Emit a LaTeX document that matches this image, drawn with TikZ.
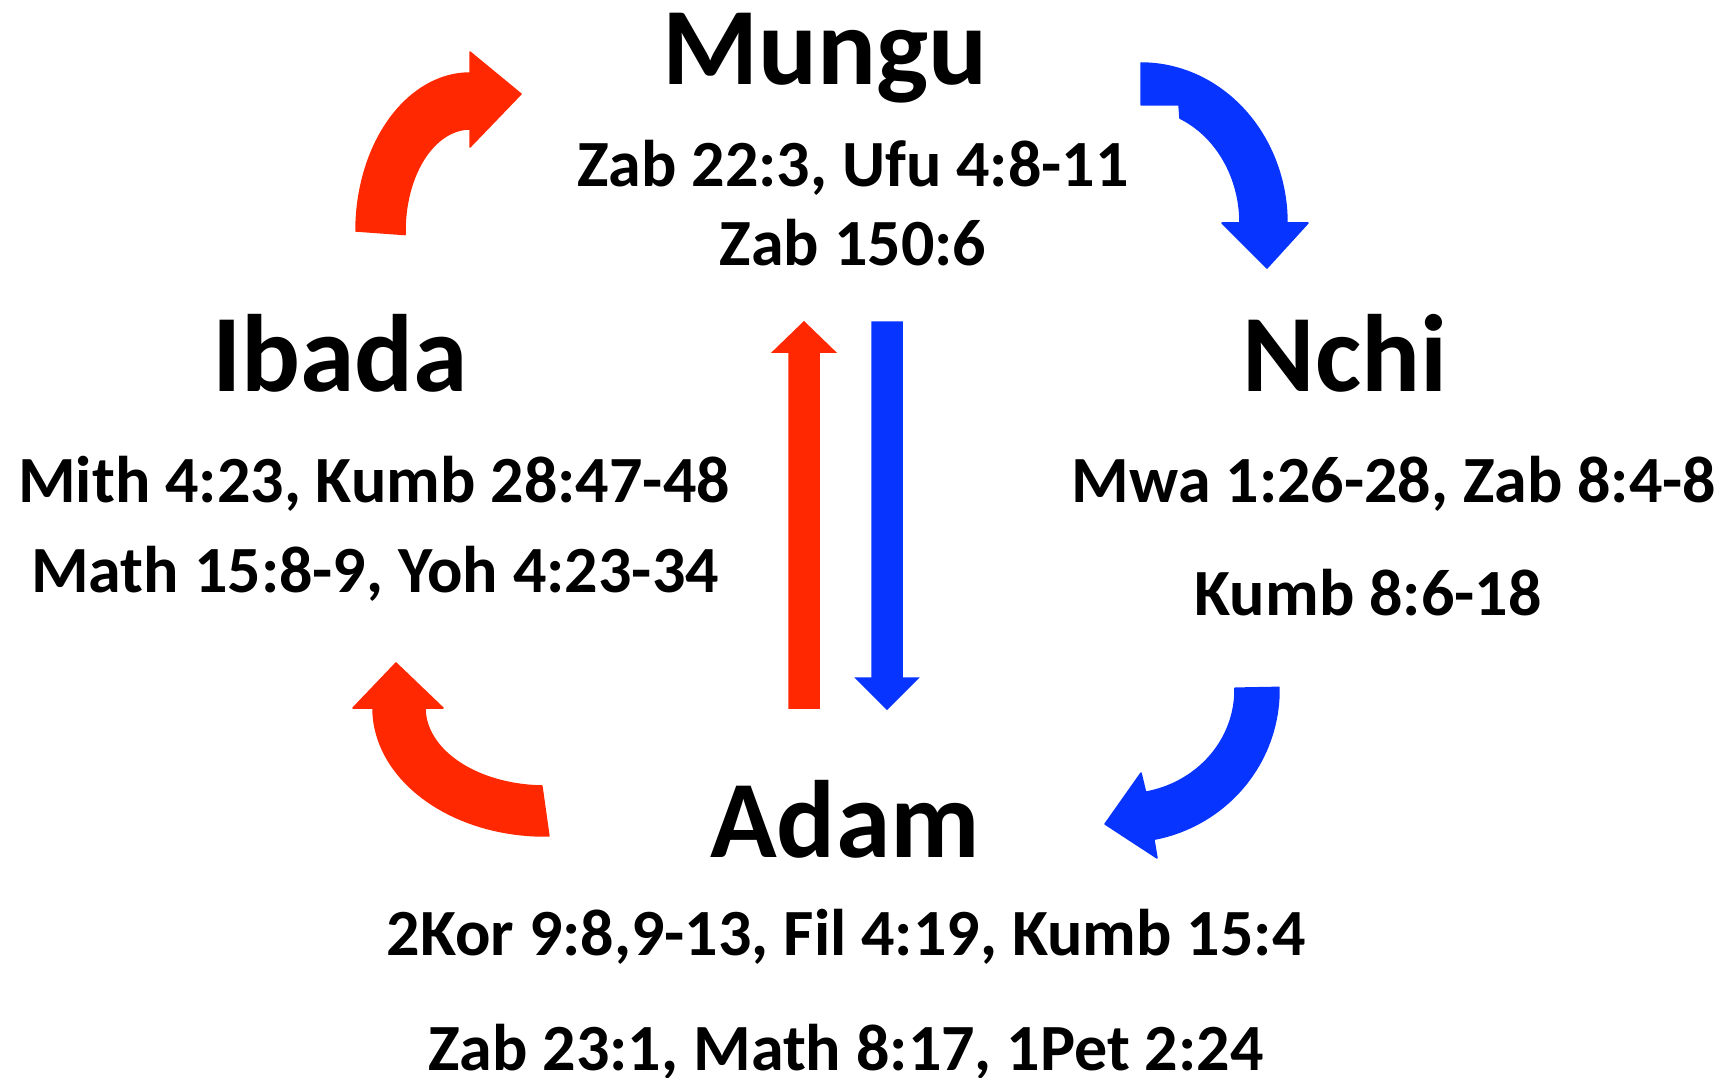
\documentclass[tikz,border=0pt]{standalone}
\usepackage{fontspec}
\setmainfont{Carlito}
\definecolor{arrred}{RGB}{255,40,0}
\definecolor{arrblue}{RGB}{8,52,255}
\tikzset{
  title/.style={font=\fontsize{110}{120}\selectfont\bfseries, anchor=base, inner sep=0pt},
  ref/.style={font=\fontsize{66}{72}\selectfont\bfseries, anchor=base, inner sep=0pt},
  redarrow/.style={fill=arrred, draw=arrred, line width=1.5pt, line join=round},
  bluearrow/.style={fill=arrblue, draw=arrblue, line width=1.5pt, line join=round}
}
\begin{document}
\begin{tikzpicture}[x=1pt,y=-1pt]
\useasboundingbox (0,0) rectangle (1729,1078);
% texts
\node[title] (mungu) at (825,85) {Mungu};
\node[ref] (mungu1) at (853,187) {Zab 22:3, Ufu 4:8-11};
\node[ref] (mungu2) at (853,265) {Zab 150:6};
\node[title] (ibada) at (340,391) {Ibada};
\node[ref] (ibada1) at (374,502) {Mith 4:23, Kumb 28:47-48};
\node[ref] (ibada2) at (375,592) {Math 15:8-9, Yoh 4:23-34};
\node[title] (nchi) at (1345,391) {Nchi};
\node[ref] (nchi1) at (1394,502) {Mwa 1:26-28, Zab 8:4-8};
\node[ref] (nchi2) at (1368,615) {Kumb 8:6-18};
\node[title] (adam) at (845,857) {Adam};
\node[ref] (adam1) at (846,955) {2Kor 9:8,9-13, Fil 4:19, Kumb 15:4};
\node[ref] (adam2) at (846,1070) {Zab 23:1, Math 8:17, 1Pet 2:24};
% top-left red curved arrow (Ibada -> Mungu)
\path[redarrow] plot[domain=180:270, samples=40] ({470+114*cos(\x)},{231+158*sin(\x)})
  -- (470,52) -- (521,94) -- (470,147)
  -- plot[domain=270:178, samples=40] ({470+65*cos(\x)},{231+102*sin(\x)}) -- cycle;
% top-right blue curved arrow (Mungu -> Nchi)
\path[bluearrow] (1141,63) -- plot[domain=270:360, samples=40] ({1141+146*cos(\x)},{223+160*sin(\x)})
  -- (1308,223) -- (1267,268) -- (1222,223)
  -- plot[domain=360:293.2, samples=40] ({1141+99*cos(\x)},{223+114*sin(\x)})
  -- (1179,105) -- (1141,105) -- cycle;
% bottom-right blue curved arrow (Nchi -> Adam)
\path[bluearrow] plot[domain=-1:79.2, samples=40] ({1125+154*cos(\x)},{690+152*sin(\x)})
  -- (1157,858) -- (1105,824) -- (1141,773)
  -- plot[domain=79.2:-1, samples=40] ({1125+110*cos(\x)},{690+104*sin(\x)}) -- cycle;
% bottom-left red curved arrow (Adam -> Ibada)
\path[redarrow] plot[domain=88.7:180, samples=40] ({545+172*cos(\x)},{708+128*sin(\x)})
  -- (353,708) -- (396,663) -- (443,708)
  -- plot[domain=180:91.5, samples=40] ({545+120*cos(\x)},{708+78*sin(\x)}) -- cycle;
% vertical arrows
\path[redarrow, line join=miter] (789,708) -- (789,352) -- (773,352) -- (804,322) -- (835,352) -- (819,352) -- (819,708) -- cycle;
\path[bluearrow, line join=miter] (872,322) -- (902,322) -- (902,678) -- (918,678) -- (887,709) -- (856,678) -- (872,678) -- cycle;
\end{tikzpicture}
\end{document}
